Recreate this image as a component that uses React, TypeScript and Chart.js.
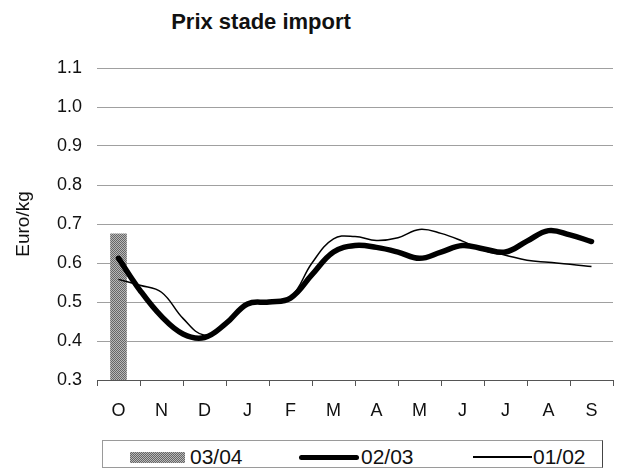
import React, { useEffect, useRef } from "react";
import { Chart, registerables } from "chart.js";

Chart.register(...registerables);

const months = ["O", "N", "D", "J", "F", "M", "A", "M", "J", "J", "A", "S"];
const yTicks = [0.3, 0.4, 0.5, 0.6, 0.7, 0.8, 0.9, 1.0, 1.1];

// 03/04 : only October available
const bar0304 = [0.675, null, null, null, null, null, null, null, null, null, null, null];

// half-month positions (0 = October centre)
const pos = [0, 0.5, 1, 1.5, 2, 2.5, 3, 3.5, 4, 4.5, 5, 5.5, 6, 6.5, 7, 7.5, 8, 8.5, 9, 9.5, 10, 10.5, 11];
const line0203 = [0.612, 0.53, 0.463, 0.418, 0.409, 0.445, 0.495, 0.5, 0.51, 0.57, 0.628, 0.645, 0.64, 0.628, 0.612, 0.628, 0.645, 0.636, 0.628, 0.656, 0.683, 0.672, 0.655];
const line0102 = [0.558, 0.543, 0.525, 0.458, 0.415, 0.445, 0.497, 0.502, 0.512, 0.6, 0.662, 0.668, 0.658, 0.665, 0.686, 0.676, 0.656, 0.632, 0.62, 0.607, 0.602, 0.597, 0.591];

const FONT = '"Liberation Sans", Arial, sans-serif';

export default function App() {
  const ref = useRef<HTMLCanvasElement | null>(null);

  useEffect(() => {
    const canvas = ref.current;
    if (!canvas) return;
    const pc = document.createElement("canvas");
    pc.width = 2;
    pc.height = 2;
    const pctx = pc.getContext("2d")!;
    pctx.fillStyle = "#b8b8b8";
    pctx.fillRect(0, 0, 2, 2);
    pctx.fillStyle = "#666666";
    pctx.fillRect(0, 0, 1, 1);
    pctx.fillRect(1, 1, 1, 1);
    const ctx = canvas.getContext("2d")!;
    const pattern = ctx.createPattern(pc, "repeat") || "#8c8c8c";

    const chart = new Chart(canvas, {
      type: "bar",
      data: {
        labels: months,
        datasets: [
          {
            type: "bar",
            label: "03/04",
            data: bar0304,
            backgroundColor: pattern as any,
            borderWidth: 0,
            barThickness: 16,
            grouped: false,
            xAxisID: "x",
            order: 3,
          } as any,
          {
            type: "line",
            label: "02/03",
            data: pos.map((p, i) => ({ x: p, y: line0203[i] })),
            borderColor: "#000",
            borderWidth: 5.5,
            borderCapStyle: "round",
            borderJoinStyle: "round",
            pointRadius: 0,
            tension: 0.4,
            xAxisID: "x2",
            order: 1,
          } as any,
          {
            type: "line",
            label: "01/02",
            data: pos.map((p, i) => ({ x: p, y: line0102[i] })),
            borderColor: "#000",
            borderWidth: 1.5,
            pointRadius: 0,
            tension: 0.4,
            xAxisID: "x2",
            order: 2,
          } as any,
        ],
      },
      options: {
        responsive: false,
        animation: false,
        devicePixelRatio: 1,
        layout: { padding: { top: 68, right: 8, left: 0, bottom: 0 } },
        plugins: {
          legend: { display: false },
          tooltip: { enabled: false },
          title: { display: false },
        },
        scales: {
          x: {
            type: "category",
            offset: true,
            grid: {
              offset: true,
              drawOnChartArea: false,
              drawTicks: true,
              tickLength: 6,
              color: "#555",
              lineWidth: 1,
            },
            border: { display: true, color: "#555", width: 1 },
            ticks: {
              color: "#111",
              font: { family: FONT, size: 18 },
              padding: 14,
              maxRotation: 0,
              autoSkip: false,
            },
            afterFit: (s: any) => {
              s.height = 60;
            },
          },
          x2: {
            type: "linear",
            min: -0.5,
            max: 11.5,
            offset: false,
            display: false,
            grid: { offset: false },
          },
          y: {
            type: "linear",
            min: 0.3,
            max: 1.1,
            afterBuildTicks: (s: any) => {
              s.ticks = yTicks.map((v) => ({ value: v }));
            },
            grid: {
              drawTicks: false,
              color: "#a0a0a0",
              lineWidth: 1,
            },
            border: { display: false },
            ticks: {
              color: "#111",
              font: { family: FONT, size: 18 },
              padding: 15,
              callback: (v: any) => Number(v).toFixed(1),
            },
            title: {
              display: true,
              text: "Euro/kg",
              color: "#111",
              font: { family: FONT, size: 19 },
              padding: { top: 12, bottom: 0 },
            },
            afterFit: (s: any) => {
              s.width = 97;
            },
          },
        },
      } as any,
    });
    return () => chart.destroy();
  }, []);

  const textStyle: React.CSSProperties = {
    position: "absolute",
    top: 445,
    fontFamily: FONT,
    fontSize: 21,
    lineHeight: "24px",
    color: "#111",
    whiteSpace: "nowrap",
  };

  return (
    <div style={{ position: "absolute", left: 0, top: 0, width: 621, height: 468, background: "#fff", overflow: "hidden" }}>
      <div
        style={{
          position: "absolute",
          left: 61,
          width: 400,
          top: 8,
          textAlign: "center",
          fontFamily: FONT,
          fontWeight: "bold",
          fontSize: 22,
          lineHeight: "28px",
          color: "#111",
        }}
      >
        Prix stade import
      </div>
      <canvas ref={ref} width={621} height={440} style={{ position: "absolute", left: 0, top: 0, width: 621, height: 440 }} />
      <div
        style={{
          position: "absolute",
          left: 102,
          top: 440,
          width: 499,
          height: 26,
          border: "1px solid #9a9a9a",
          borderRight: "1px solid #444",
        }}
      />
      <div
        style={{
          position: "absolute",
          left: 130,
          top: 452,
          width: 55,
          height: 11,
          background: "repeating-conic-gradient(#666 0% 25%, #b8b8b8 0% 50%) 0 0 / 2px 2px",
        }}
      />
      <div style={{ ...textStyle, left: 190 }}>03/04</div>
      <div style={{ position: "absolute", left: 299, top: 455, width: 60, height: 5, background: "#000", borderRadius: 3 }} />
      <div style={{ ...textStyle, left: 361 }}>02/03</div>
      <div style={{ position: "absolute", left: 473, top: 456, width: 59, height: 1.5, background: "#000" }} />
      <div style={{ ...textStyle, left: 533 }}>01/02</div>
    </div>
  );
}
